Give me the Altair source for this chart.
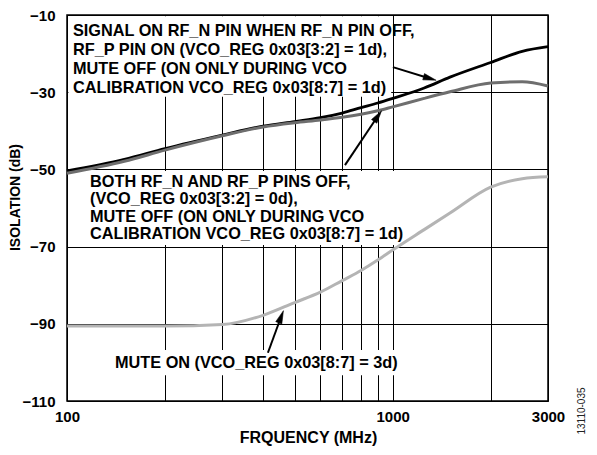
import math
import altair as alt
import pandas as pd

# ---------------- data ----------------
freq = [100, 150, 200, 300, 400, 500, 600, 700, 800, 900, 1000, 1250, 1500, 2000, 2500, 3000]
sig_on = [-50.4, -47.4, -44.6, -41.1, -38.8, -37.6, -36.6, -35.4, -34.0, -32.8, -31.6, -28.9, -26.1, -22.3, -19.4, -18.2]
both_off = [-51.0, -47.9, -45.0, -41.3, -39.0, -37.9, -37.2, -36.5, -35.7, -34.8, -33.8, -31.6, -29.9, -27.6, -27.3, -28.4]
mute_on = [-90.6, -90.6, -90.6, -90.2, -87.8, -84.5, -81.8, -78.8, -76.2, -73.5, -70.9, -65.6, -61.3, -54.6, -52.4, -51.9]

x_grid = [100, 200, 300, 400, 500, 600, 700, 800, 900, 1000, 2000, 3000]
y_ticks = [-110, -90, -70, -50, -30, -10]

# annotation text
txt1 = ["SIGNAL ON RF_N PIN WHEN RF_N PIN OFF,",
        "RF_P PIN ON (VCO_REG 0x03[3:2] = 1d),",
        "MUTE OFF (ON ONLY DURING VCO",
        "CALIBRATION VCO_REG 0x03[8:7] = 1d)"]
txt2 = ["BOTH RF_N AND RF_P PINS OFF,",
        "(VCO_REG 0x03[3:2] = 0d),",
        "MUTE OFF (ON ONLY DURING VCO",
        "CALIBRATION VCO_REG 0x03[8:7] = 1d)"]
txt3 = ["MUTE ON (VCO_REG 0x03[8:7] = 3d)"]
txt_f = [104.3, 117.7, 140.4]
txt_v = [-15.5, -54.6, -101.5]

# white boxes behind annotation text (data coords)
box_f1 = [101, 113, 135]
box_f2 = [990, 1092, 1092]
box_v1 = [-10.3, -50.4, -96.8]
box_v2 = [-31.2, -69.6, -103.3]

# arrows (tail -> tip) and head direction (degrees clockwise from up)
arr_f1 = [1002, 714, 414]
arr_v1 = [-23.5, -48.9, -97.5]
arr_f2 = [1360, 925, 462]
arr_v2 = [-26.9, -34.8, -86.6]
arr_ang = [105.6, 34.9, 21.0]

FONT = "Liberation Sans"
W, H = 481, 386
HEAD_LEN = 13.0

xs = alt.Scale(type="log", domain=[100, 3000], nice=False)
ys = alt.Scale(domain=[-110, -10], nice=False)

x_axis = alt.Axis(
    values=x_grid,
    labelExpr="(datum.value == 100 || datum.value == 1000 || datum.value == 3000) ? format(datum.value, 'd') : ''",
    title="FRQUENCY (MHz)",
    titleFontSize=16,
    titleX=241, titleY=36, titleBaseline="middle", titleAlign="center",
    labelFontSize=15, labelPadding=8, labelFlush=False, labelOverlap=False,
    ticks=False, tickSize=0, domain=False, zindex=0,
)
y_axis = alt.Axis(
    values=y_ticks,
    title="ISOLATION (dB)",
    titleFontSize=14,
    titleX=-52, titleY=182, titleAngle=-90, titleBaseline="middle", titleAlign="center",
    labelFontSize=15, labelPadding=12, labelFlush=False, labelOverlap=False,
    ticks=False, tickSize=0, domain=False, zindex=0,
)

def X(field):
    return alt.X(field, type="quantitative", scale=xs, axis=x_axis)

def Y(field):
    return alt.Y(field, type="quantitative", scale=ys, axis=y_axis)

curves = pd.DataFrame({"f": freq, "sig": sig_on, "both": both_off, "mute": mute_on})

boxes = pd.DataFrame({"f1": box_f1, "f2": box_f2, "v1": box_v1, "v2": box_v2})
box_layer = alt.Chart(boxes).mark_rect(color="white").encode(
    x=X("f1"), x2="f2", y=Y("v1"), y2="v2")

def curve(field, color, width):
    return alt.Chart(curves).mark_line(color=color, strokeWidth=width, interpolate="monotone").encode(
        x=X("f"), y=Y(field))

l_sig = curve("sig", "#000000", 2.8)
l_both = curve("both", "#6e6e6e", 3)
l_mute = curve("mute", "#b4b4b4", 3)

# arrow head centre: half a head length back from the tip, along the arrow
px_dec = W / math.log10(3000 / 100)
px_db = H / 100.0
hc_f, hc_v = [], []
for f2, v2, a in zip(arr_f2, arr_v2, arr_ang):
    r = math.radians(a)
    hc_f.append(f2 * 10 ** (-(HEAD_LEN / 2) * math.sin(r) / px_dec))
    hc_v.append(v2 - (HEAD_LEN / 2) * math.cos(r) / px_db)

arrows = pd.DataFrame({"f1": arr_f1, "v1": arr_v1, "f2": arr_f2, "v2": arr_v2,
                       "hf": hc_f, "hv": hc_v, "ang": arr_ang})
arr_rule = alt.Chart(arrows).mark_rule(color="black", strokeWidth=2).encode(
    x=X("f1"), y=Y("v1"), x2="hf", y2="hv")
arr_head = alt.Chart(arrows).mark_point(
    shape="M0,-1L0.5,1L-0.5,1Z", filled=True, fill="black", stroke="black",
    strokeWidth=0.5, opacity=1, size=HEAD_LEN * HEAD_LEN
).encode(x=X("hf"), y=Y("hv"), angle=alt.Angle("ang", type="quantitative", scale=None))

def text_block(lines, f, v, lh):
    d = pd.DataFrame({"f": [f], "v": [v], "t": [lines]})
    return alt.Chart(d).mark_text(
        align="left", baseline="alphabetic", font=FONT, fontWeight="bold", fontSize=16.3,
        lineHeight=lh, color="black"
    ).encode(x=X("f"), y=Y("v"), text="t")

t1 = text_block(txt1, txt_f[0], txt_v[0], 19)
t2 = text_block(txt2, txt_f[1], txt_v[1], 17.2)
t3 = text_block(txt3, txt_f[2], txt_v[2], 17)

serial = alt.Chart(pd.DataFrame({"t": ["13110-035"]})).mark_text(
    font=FONT, fontSize=10, angle=270, align="center", baseline="middle", color="#222222"
).encode(x=alt.value(515), y=alt.value(396), text="t")

chart = alt.layer(
    box_layer, l_sig, l_both, l_mute, arr_rule, arr_head, t1, t2, t3, serial
).properties(
    width=W, height=H,
    autosize=alt.AutoSizeParams(type="none"),
    padding={"left": 59, "top": 7, "right": 41, "bottom": 46},
).configure_view(
    stroke="black", strokeWidth=1.5
).configure_axis(
    grid=True, gridColor="black", gridWidth=1, gridOpacity=1,
    labelFont=FONT, labelFontWeight="bold", labelColor="black",
    titleFont=FONT, titleFontWeight="bold", titleColor="black",
)

chart.save("out.html", embed_options={"renderer": "svg", "actions": False})
